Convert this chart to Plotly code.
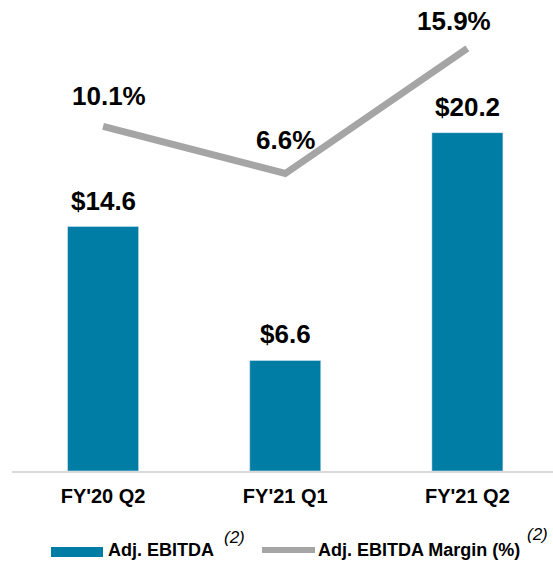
import plotly.graph_objects as go

categories = ["FY'20 Q2", "FY'21 Q1", "FY'21 Q2"]
ebitda = [14.6, 6.6, 20.2]
margin_pct = [10.1, 6.6, 15.9]
ebitda_labels = ["$14.6", "$6.6", "$20.2"]
margin_labels = ["10.1%", "6.6%", "15.9%"]

BAR_COLOR = "#007DA5"
LINE_COLOR = "#A5A5A5"
FONT = "Liberation Sans, Arial, sans-serif"

W, H = 553, 562
ML, MR, MT, MB = 12, 0, 0, 91
PW, PH = W - ML - MR, H - MT - MB


def px(xp):
    return (xp - ML) / PW


def py(yp):
    return (MT + PH - yp) / PH


fig = go.Figure()
fig.add_trace(go.Bar(x=categories, y=ebitda, marker_color=BAR_COLOR, width=0.39,
                     name="Adj. EBITDA", yaxis="y"))
fig.add_trace(go.Scatter(x=categories, y=margin_pct, mode="lines",
                         line=dict(color=LINE_COLOR, width=7), name="Adj. EBITDA Margin (%)",
                         yaxis="y2"))

annotations = []
bar_shift = [8, 9, 9]
for c, v, t, s in zip(categories, ebitda, ebitda_labels, bar_shift):
    annotations.append(dict(x=c, y=v, xref="x", yref="y", text=t, showarrow=False,
                            yanchor="bottom", yshift=s,
                            font=dict(family=FONT, size=26, color="#000000", weight="bold")))
line_shift = [(6, 13), (0, 17), (-13, 10)]
for c, v, t, (sx, sy) in zip(categories, margin_pct, margin_labels, line_shift):
    annotations.append(dict(x=c, y=v, xref="x", yref="y2", text=t, showarrow=False,
                            yanchor="bottom", yshift=sy, xshift=sx,
                            font=dict(family=FONT, size=26, color="#000000", weight="bold")))

# custom legend
leg_font = dict(family=FONT, size=18, color="#000000", weight="bold")
sup_font = dict(family=FONT, size=17, color="#000000", style="italic")
annotations += [
    dict(x=px(107), y=py(550), xref="paper", yref="paper", text="Adj. EBITDA",
         showarrow=False, xanchor="left", yanchor="middle", font=leg_font, borderpad=0),
    dict(x=px(223), y=py(537), xref="paper", yref="paper", text="(2)",
         showarrow=False, xanchor="left", yanchor="middle", font=sup_font, borderpad=0),
    dict(x=px(317), y=py(550), xref="paper", yref="paper", text="Adj. EBITDA Margin (%)",
         showarrow=False, xanchor="left", yanchor="middle", font=leg_font, borderpad=0),
    dict(x=px(526), y=py(534), xref="paper", yref="paper", text="(2)",
         showarrow=False, xanchor="left", yanchor="middle", font=sup_font, borderpad=0),
]
shapes = [
    dict(type="rect", xref="paper", yref="paper", x0=px(51), x1=px(103), y0=py(557), y1=py(547),
         fillcolor=BAR_COLOR, line=dict(width=0)),
    dict(type="line", xref="paper", yref="paper", x0=px(262), x1=px(315), y0=py(550), y1=py(550),
         line=dict(color=LINE_COLOR, width=6)),
]

fig.update_layout(
    width=W, height=H,
    margin=dict(l=ML, r=MR, t=MT, b=MB),
    paper_bgcolor="white", plot_bgcolor="white",
    showlegend=False,
    font=dict(family=FONT, color="#000000"),
    xaxis=dict(type="category", range=[-0.5, 2.47], showgrid=False, zeroline=False,
               showline=True, linecolor="#D9D9D9", linewidth=2, ticks="",
               ticklabelstandoff=6,
               tickfont=dict(family=FONT, size=20, color="#000000", weight="bold"),
               fixedrange=True),
    yaxis=dict(range=[0, 28.12], visible=False, showgrid=False, zeroline=False),
    yaxis2=dict(range=[-15.5, 19.49], overlaying="y", visible=False, showgrid=False,
                zeroline=False),
    annotations=annotations,
    shapes=shapes,
    bargap=0.6,
)

fig.write_html("out.html", config={"displayModeBar": False},
               post_script="document.body.style.margin='0';document.body.style.overflow='hidden';")
